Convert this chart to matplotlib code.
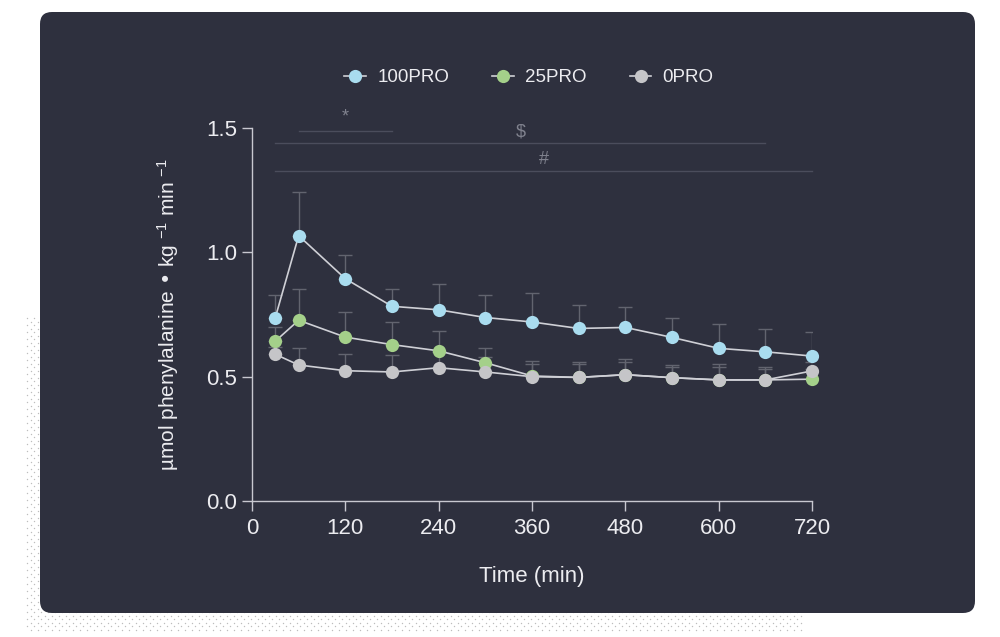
import numpy as np
import matplotlib.pyplot as plt
from matplotlib.patches import FancyBboxPatch

plt.rcParams['font.family'] = ['Liberation Sans', 'DejaVu Sans']
plt.rcParams['mathtext.default'] = 'regular'

# data
time = [30, 60, 120, 180, 240, 300, 360, 420, 480, 540, 600, 660, 720]

pro100 = [0.738, 1.067, 0.894, 0.783, 0.769, 0.738, 0.72, 0.694, 0.698, 0.658, 0.614, 0.60, 0.583]
pro100_up = [0.828, 1.241, 0.988, 0.854, 0.871, 0.83, 0.837, 0.788, 0.779, 0.738, 0.71, 0.69, 0.68]

pro25 = [0.643, 0.727, 0.659, 0.629, 0.604, 0.556, 0.503, 0.497, 0.508, 0.496, 0.487, 0.487, 0.49]
pro25_up = [0.70, 0.852, 0.76, 0.718, 0.682, 0.614, 0.55, 0.55, 0.56, 0.54, 0.54, 0.53, 0.53]

pro0 = [0.59, 0.547, 0.524, 0.519, 0.536, 0.519, 0.50, 0.497, 0.508, 0.496, 0.487, 0.487, 0.523]
pro0_up = [0.62, 0.616, 0.591, 0.587, 0.60, 0.58, 0.562, 0.559, 0.57, 0.546, 0.55, 0.537, 0.56]

series = [
    ('100PRO', pro100, pro100_up, '#a9dcef'),
    ('25PRO', pro25, pro25_up, '#a4d08a'),
    ('0PRO', pro0, pro0_up, '#c5c5c8'),
]

# significance bars: label, start, end, line y, text y
sig_bars = [
    ('*', 60, 180, 1.49, 1.51),
    ('$', 30, 660, 1.438, 1.45),
    ('#', 30, 720, 1.328, 1.34),
]

bg = '#2e303e'
fg = '#ececf0'

fig = plt.figure(figsize=(10, 6.37), dpi=100)
fig.patch.set_facecolor('white')

# dotted decoration behind the panel
deco = fig.add_axes([0, 0, 1, 1], zorder=-3)
deco.set_xlim(0, 1000)
deco.set_ylim(637, 0)
deco.axis('off')
gx, gy = np.meshgrid(np.arange(27, 800, 7), np.arange(318, 632, 7))
deco.scatter(gx.ravel(), gy.ravel(), s=1.0, color='#bdbdbd', lw=0)
deco.scatter(gx.ravel() + 3.5, gy.ravel() + 3.5, s=1.0, color='#bdbdbd', lw=0)
panel = FancyBboxPatch((40, 12), 935, 601, boxstyle='round,pad=0,rounding_size=12',
                       facecolor=bg, edgecolor='none', zorder=2)
deco.add_patch(panel)

ax = fig.add_axes([0.252, 0.2135, 0.56, 0.5855])
ax.set_facecolor('none')

for name, vals, up, col in series:
    vals = np.array(vals)
    err = np.array(up) - vals
    ax.errorbar(time, vals, yerr=[np.zeros_like(err), err], fmt='none',
                ecolor='#62646f', elinewidth=1, capsize=5, capthick=1, zorder=2)

for i, (name, vals, up, col) in enumerate(series):
    ax.plot(time, vals, color='#cfd0d6', lw=1.2, zorder=3 + 2 * i, clip_on=False)
    ax.plot(time, vals, 'o', color=col, ms=9.5, mec='none', zorder=4 + 2 * i, clip_on=False)

for lab, x0, x1, ly, ty in sig_bars:
    ax.plot([x0, x1], [ly, ly], color='#4b4d5c', lw=1, clip_on=False)
    ax.text((x0 + x1) / 2, ty, lab, color='#80828e', fontsize=13, ha='center',
            va='bottom', clip_on=False)

ax.set_xlim(0, 720)
ax.set_ylim(0, 1.5)
ax.set_xticks(range(0, 721, 120))
ax.set_yticks([0.0, 0.5, 1.0, 1.5])
ax.set_yticklabels(['0.0', '0.5', '1.0', '1.5'])
for s in ['top', 'right']:
    ax.spines[s].set_visible(False)
for s in ['left', 'bottom']:
    ax.spines[s].set_color('#c8c8d0')
    ax.spines[s].set_linewidth(1)
ax.tick_params(colors='#c8c8d0', labelcolor=fg, labelsize=16, length=7, width=1)
ax.tick_params(axis='x', pad=5)

ax.set_xlabel('Time (min)', color=fg, fontsize=16, labelpad=20)
ax.set_ylabel('µmol phenylalanine • kg $^{-1}$ min $^{-1}$', color=fg, fontsize=15, labelpad=18)

handles = [plt.Line2D([], [], color='#cfd0d6', lw=1.2, marker='o', ms=9.5, mfc=c, mec='none')
           for _, _, _, c in series]
fig.legend(handles, [s[0] for s in series], loc='center', bbox_to_anchor=(0.529, 0.878),
           ncol=3, frameon=False, fontsize=13.5, labelcolor=fg, handlelength=1.15,
           columnspacing=2.3, handletextpad=0.6)

fig.savefig('out.png', dpi=100, facecolor='white')
